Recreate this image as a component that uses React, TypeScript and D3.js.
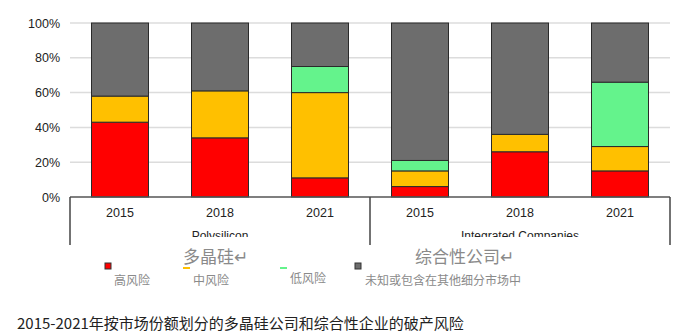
import React from "react";
import * as d3 from "d3";

const groups = ["Polysilicon", "Integrated Companies"];
const years = ["2015", "2018", "2021", "2015", "2018", "2021"];
const high = [43, 34, 11, 6, 26, 15];
const medium = [15, 27, 49, 9, 10, 14];
const low = [0, 0, 15, 6, 0, 37];
const unknown = [42, 39, 25, 79, 64, 34];
const yTicks = [0, 20, 40, 60, 80, 100];
const seriesKeys = ["high", "medium", "low", "unknown"];
const seriesColors = ["#ff0000", "#ffc000", "#64f38c", "#6d6d6d"];
const legendLabels = ["高风险", "中风险", "低风险", "未知或包含在其他细分市场中"];
const groupLabelsCN = ["多晶硅↵", "综合性公司↵"];
const caption = "2015-2021年按市场份额划分的多晶硅公司和综合性企业的破产风险";

export default function App() {
  const W = 687, H = 336;
  const left = 70, right = 670, top = 23, bottom = 197;
  const idx = years.map((_, i) => i);
  const x = d3.scaleBand<number>().domain(idx).range([left, right]).paddingInner(0.43).paddingOuter(0.215);
  const y = d3.scaleLinear().domain([0, 100]).range([bottom, top]);
  const rows = idx.map((i) => ({ i, high: high[i], medium: medium[i], low: low[i], unknown: unknown[i] }));
  const stacked = d3.stack<any>().keys(seriesKeys)(rows);
  const groupX = d3.scaleLinear().domain([0, 2]).range([left, right]);
  const sans = "Liberation Sans, Arial, sans-serif";
  const cjk = "'Noto Sans CJK SC', sans-serif";

  return (
    <svg width={W} height={H} style={{ position: "absolute", left: 0, top: 0, background: "#fff" }}>
      <defs>
        <clipPath id="glab">
          <rect x={0} y={200} width={W} height={37} />
        </clipPath>
      </defs>
      {yTicks.filter((t) => t > 0).map((t) => (
        <line key={t} x1={left} x2={right} y1={y(t)} y2={y(t)} stroke="#dcdcdc" strokeWidth={1.5} />
      ))}
      {yTicks.map((t) => (
        <text key={"l" + t} x={60} y={y(t) + 4.5} textAnchor="end" fontFamily={sans} fontSize={12.5} fill="#222">
          {t}%
        </text>
      ))}
      {stacked.map((s, si) => (
        <g key={s.key}>
          {s.map((d: any, j: number) =>
            d[1] - d[0] > 0 ? (
              <rect
                key={j}
                x={x(j)}
                width={x.bandwidth()}
                y={y(d[1])}
                height={y(d[0]) - y(d[1])}
                fill={seriesColors[si]}
                stroke="#2a2a2a"
                strokeWidth={1}
              />
            ) : null
          )}
        </g>
      ))}
      <line x1={left} x2={right} y1={bottom} y2={bottom} stroke="#555" strokeWidth={1.5} />
      {[0, 1, 2].map((k) => (
        <line key={k} x1={groupX(k)} x2={groupX(k)} y1={bottom} y2={245} stroke="#444" strokeWidth={1.5} />
      ))}
      {years.map((yr, i) => (
        <text key={i} x={(x(i) as number) + x.bandwidth() / 2} y={217} textAnchor="middle" fontFamily={sans} fontSize={12.5} fill="#222">
          {yr}
        </text>
      ))}
      <g clipPath="url(#glab)">
        {groups.map((g, k) => (
          <text key={g} x={groupX(k + 0.5)} y={240} textAnchor="middle" fontFamily={sans} fontSize={12} fill="#222">
            {g}
          </text>
        ))}
      </g>
      {groupLabelsCN.map((g, k) => (
        <text key={g} x={k === 0 ? 183 : 415} y={263} fontFamily={cjk} fontSize={17} fill="#8a8a8a">
          {g}
        </text>
      ))}
      <rect x={105} y={263} width={6} height={6} fill="#ff0000" stroke="#333" strokeWidth={1} />
      <rect x={183} y={267} width={7} height={2} fill="#ffc000" />
      <rect x={280} y={267} width={7} height={2} fill="#64f38c" />
      <rect x={355} y={263} width={6} height={6} fill="#6d6d6d" stroke="#333" strokeWidth={1} />
      {legendLabels.map((l, k) => (
        <text key={l} x={[114, 193, 290, 365][k]} y={k === 2 ? 283 : 285} fontFamily={cjk} fontSize={12} fill="#8a8a8a">
          {l}
        </text>
      ))}
      <text x={17} y={329} fontFamily={cjk} fontSize={15} fill="#222">
        {caption}
      </text>
    </svg>
  );
}
